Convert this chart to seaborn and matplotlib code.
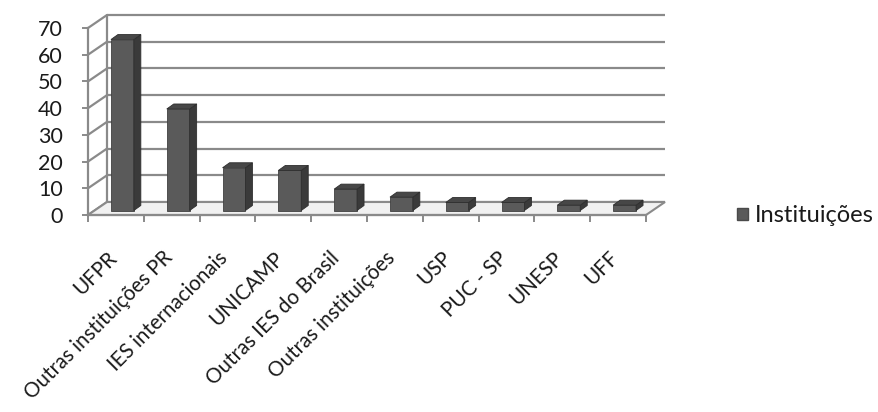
import matplotlib
matplotlib.use("Agg")
import matplotlib.pyplot as plt
import seaborn as sns
from matplotlib.patches import Polygon, Patch
from matplotlib.transforms import ScaledTranslation

# ---- data ----
categories = ["UFPR", "Outras instituições PR", "IES internacionais", "UNICAMP",
              "Outras IES do Brasil", "Outras instituições", "USP", "PUC - SP",
              "UNESP", "UFF"]
values = [64, 38, 16, 15, 8, 5, 3, 3, 2, 2]
yticks = [0, 10, 20, 30, 40, 50, 60, 70]
series_name = "Instituições"

sns.set_theme(style="white")
plt.rcParams["font.family"] = ["Lato", "DejaVu Sans"]

FRONT = "#5a5a5a"
SIDE = "#3a3a3a"
TOP = "#474747"
GRID = "#8a8a8a"
TEXT = "#1a1a1a"

W, H = 879, 412
fig = plt.figure(figsize=(W / 100, H / 100), dpi=100)
fig.patch.set_facecolor("white")
ax = fig.add_axes([88 / W, (H - 215) / H, 558 / W, 187 / H])

sns.barplot(x=categories, y=values, color=FRONT, saturation=1, width=0.41,
            ax=ax, label=series_name, zorder=4, edgecolor="#404040", linewidth=0.6)
ax.set_xlim(-0.5, len(categories) - 0.5)
ax.set_ylim(yticks[0], yticks[-1])
x0, x1 = ax.get_xlim()


def px(dx, dy):
    bb = ax.get_window_extent()
    return dx * (x1 - x0) / bb.width, dy * (yticks[-1] - yticks[0]) / bb.height


wdx, wdy = px(19, 13)      # depth of the back wall
odx, ody = px(6.5, 4.5)    # bar front plane offset
bdx, bdy = px(7, 5)        # bar depth

# floor
floor = Polygon([(x0, 0), (x1, 0), (x1 + wdx, wdy), (x0 + wdx, wdy)],
                closed=True, facecolor="#f1f1f1", edgecolor=GRID, lw=1.5,
                zorder=2, clip_on=False)
ax.add_patch(floor)

# back wall gridlines + side wall diagonals
for t in yticks:
    ax.plot([x0 + wdx, x1 + wdx], [t + wdy, t + wdy], color=GRID, lw=1.6,
            zorder=1, clip_on=False, solid_capstyle="butt")
    ax.plot([x0, x0 + wdx], [t, t + wdy], color=GRID, lw=1.6, zorder=1,
            clip_on=False)
ax.plot([x0 + wdx, x0 + wdx], [wdy, yticks[-1] + wdy], color=GRID, lw=1.6,
        zorder=1, clip_on=False)

# 3D faces of bars
for p in list(ax.patches):
    if p is floor:
        continue
    h = p.get_height()
    p.set_x(p.get_x() + odx)
    p.set_y(ody)
    a = p.get_x()
    b = a + p.get_width()
    side = Polygon([(b, ody), (b + bdx, ody + bdy), (b + bdx, ody + h + bdy), (b, ody + h)],
                   closed=True, facecolor=SIDE, edgecolor="#2e2e2e", lw=0.6, zorder=4,
                   clip_on=False)
    top = Polygon([(a, ody + h), (b, ody + h), (b + bdx, ody + h + bdy), (a + bdx, ody + h + bdy)],
                  closed=True, facecolor=TOP, edgecolor="#2e2e2e", lw=0.6, zorder=4,
                  clip_on=False)
    ax.add_patch(side)
    ax.add_patch(top)
    p.set_clip_on(False)

# axes styling
for s in ["top", "right"]:
    ax.spines[s].set_visible(False)
for s in ["left", "bottom"]:
    ax.spines[s].set_color(GRID)
    ax.spines[s].set_linewidth(1.6)
    ax.spines[s].set_zorder(3)

ax.set_yticks(yticks)
ax.set_yticklabels([str(t) for t in yticks])
ax.tick_params(axis="y", length=4.3, width=1.4, color=GRID, pad=14,
               labelsize=15.5, labelcolor=TEXT, left=True)
ax.set_xticks(range(len(categories)))
ax.set_xticklabels(categories, rotation=45, ha="right", va="top",
                   rotation_mode="default")
ax.tick_params(axis="x", which="major", length=0, pad=23.5, labelsize=14.8,
               labelcolor=TEXT)
ax.set_xticks([i - 0.5 for i in range(len(categories) + 1)], minor=True)
ax.tick_params(axis="x", which="minor", length=5, width=1.4, color=GRID,
               bottom=True, direction="out")
for lab in ax.get_xticklabels():
    lab.set_transform(lab.get_transform() + ScaledTranslation(0.045, 0, fig.dpi_scale_trans))
ax.set_xlabel("")
ax.set_ylabel("")
ax.grid(False)

ax.legend(handles=[Patch(facecolor=FRONT, edgecolor="#4a4a4a")], labels=[series_name],
          loc="center left", bbox_to_anchor=(737 / W, (H - 216) / H),
          bbox_transform=fig.transFigure, frameon=False, fontsize=17,
          handlelength=0.45, handleheight=0.45, handletextpad=0.3,
          borderpad=0, borderaxespad=0, labelcolor=TEXT)

fig.savefig("out.png", dpi=100, facecolor="white")
